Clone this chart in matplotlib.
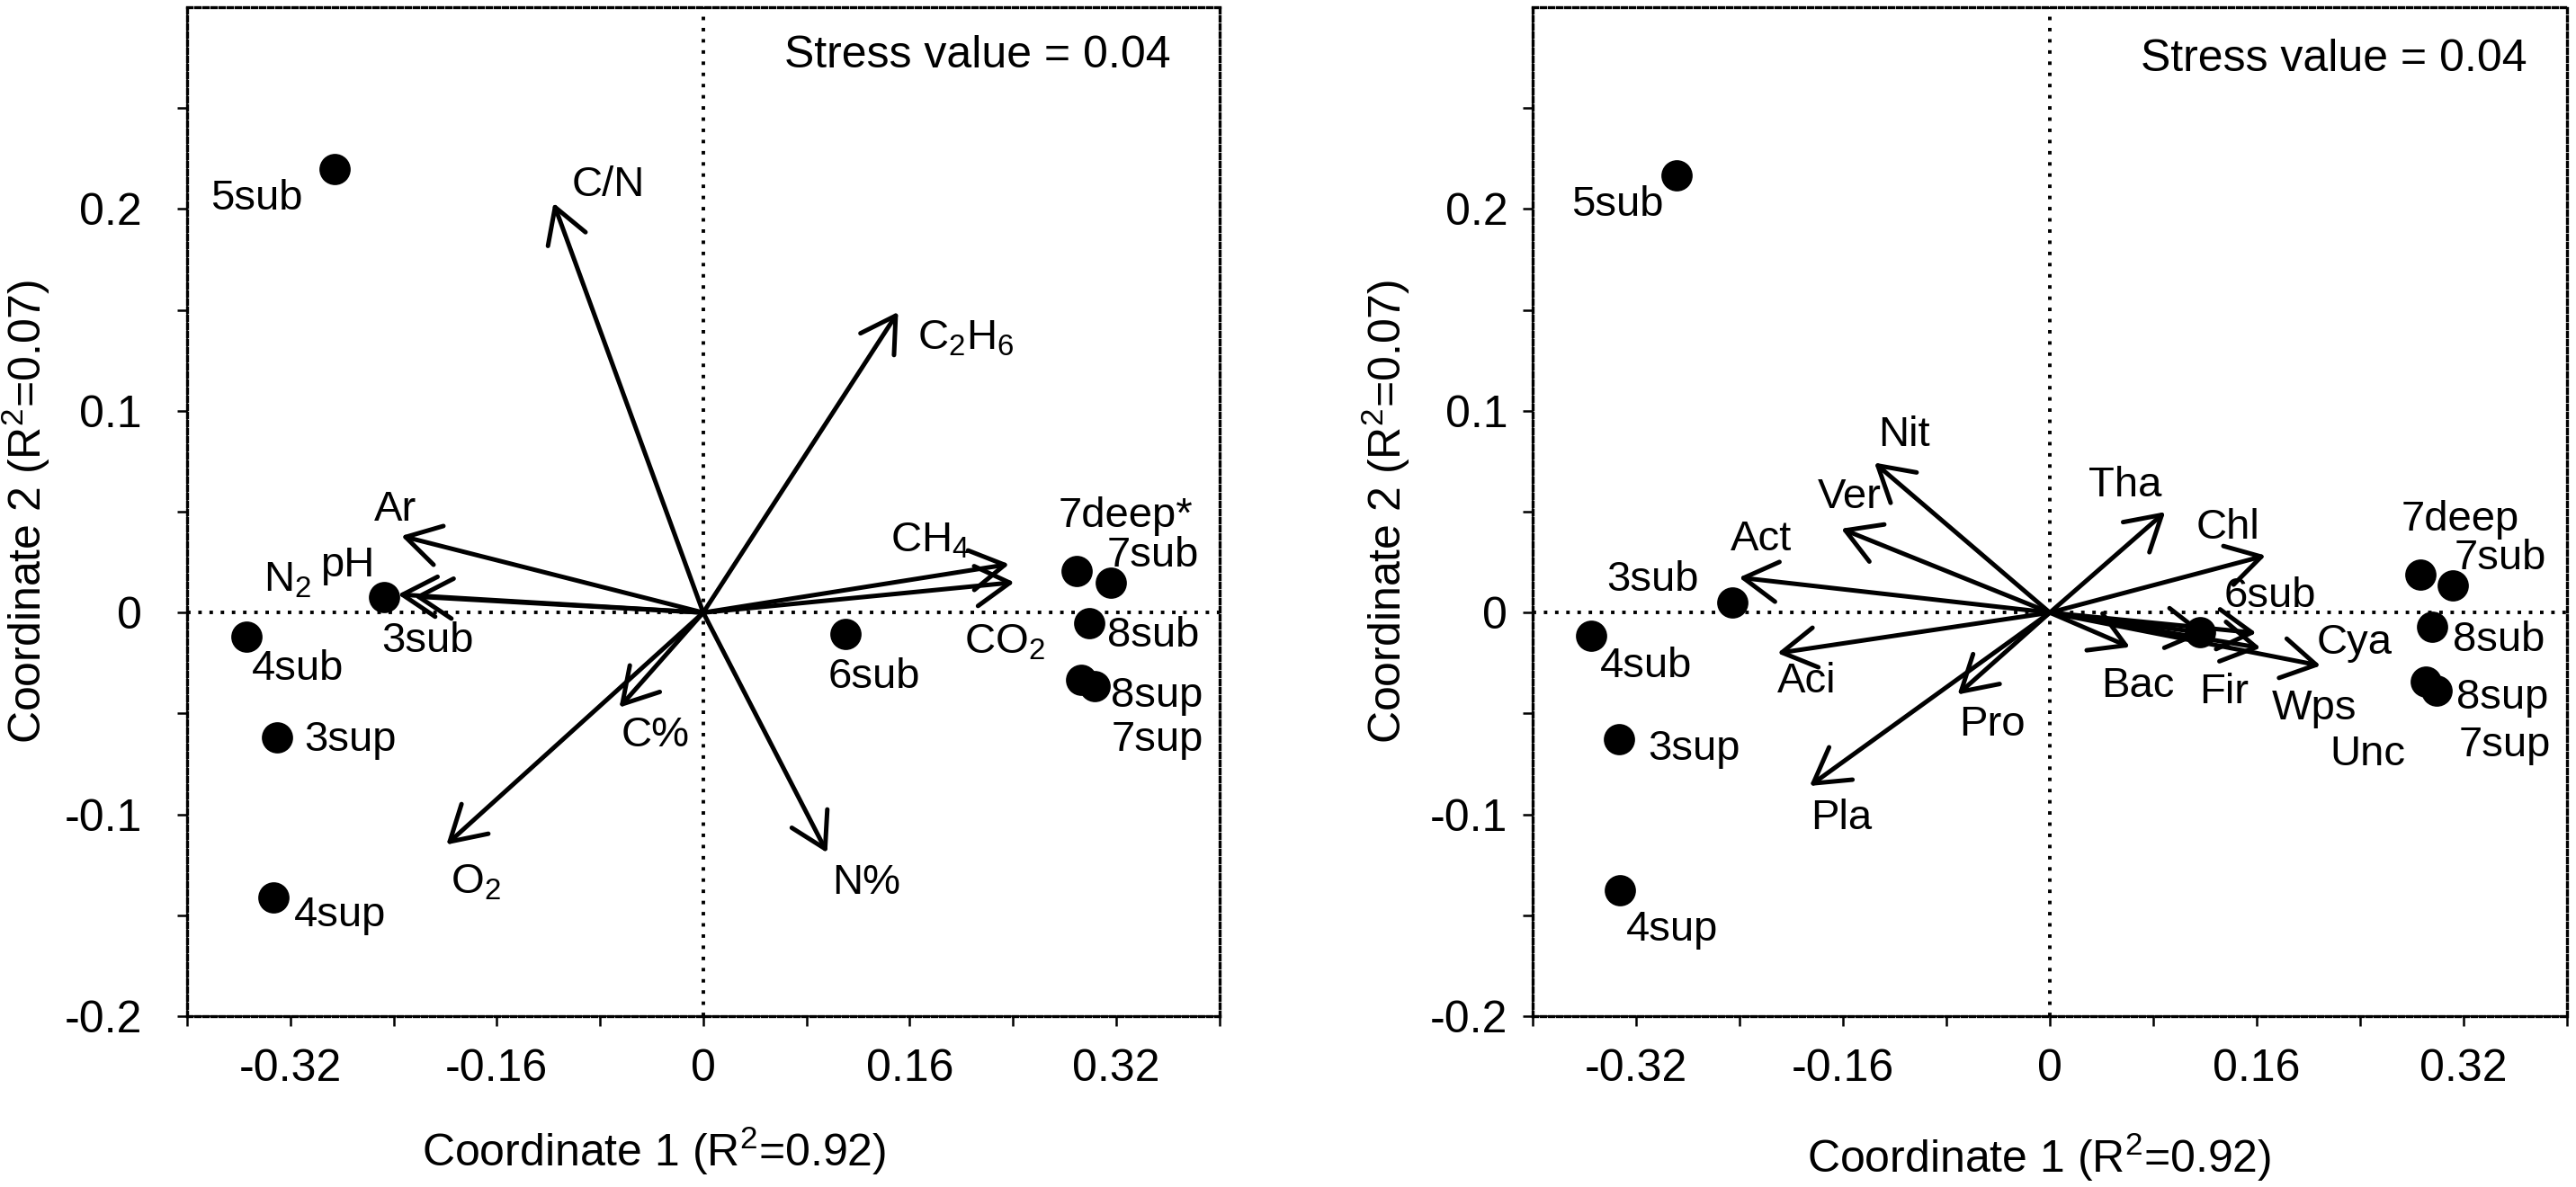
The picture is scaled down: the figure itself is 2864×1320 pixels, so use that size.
import matplotlib
matplotlib.use('Agg')
import matplotlib.pyplot as plt
from matplotlib.ticker import FixedLocator, NullFormatter

plt.rcParams['font.family'] = ['Liberation Sans', 'DejaVu Sans']
plt.rcParams['mathtext.fontset'] = 'custom'
plt.rcParams['mathtext.rm'] = 'Liberation Sans'
plt.rcParams['mathtext.default'] = 'regular'
plt.rcParams['axes.unicode_minus'] = False

# ---- panel A: sites + environmental vectors ----
sites_a = ['5sub', '7deep*', '7sub', '3sub', '4sub', '6sub', '8sub', '8sup', '7sup', '3sup', '4sup']
sx_a = [-0.286, 0.289, 0.316, -0.247, -0.354, 0.110, 0.299, 0.293, 0.303, -0.330, -0.333]
sy_a = [0.220, 0.0205, 0.0146, 0.0077, -0.012, -0.0104, -0.0052, -0.0334, -0.0364, -0.062, -0.141]
# label anchor positions
slx_a = [-0.310, 0.275, 0.313, -0.249, -0.350, 0.097, 0.313, 0.316, 0.316, -0.309, -0.317]
sly_a = [0.205, 0.048, 0.028, -0.0142, -0.028, -0.032, -0.0116, -0.0415, -0.063, -0.063, -0.150]

vec_a = ['C/N', 'C$_2$H$_6$', 'Ar', 'N$_2$', 'pH', 'CH$_4$', 'CO$_2$', 'C%', 'O$_2$', 'N%']
vx_a = [-0.116, 0.151, -0.234, -0.2365, -0.224, 0.237, 0.241, -0.065, -0.199, 0.096]
vy_a = [0.203, 0.149, 0.038, 0.009, 0.008, 0.024, 0.015, -0.047, -0.115, -0.119]
vlx_a = [-0.102, 0.166, -0.255, -0.341, -0.2965, 0.145, 0.202, -0.0635, -0.196, 0.100]
vly_a = [0.212, 0.1306, 0.051, 0.0104, 0.0178, 0.030, -0.020, -0.061, -0.1393, -0.134]
vva_a = ['center', 'baseline', 'center', 'baseline', 'baseline', 'baseline', 'baseline', 'center', 'baseline', 'center']

# ---- panel B: sites + taxa vectors ----
sites_b = ['5sub', '7deep', '7sub', '3sub', '4sub', '6sub', '8sub', '8sup', '7sup', '3sup', '4sup']
sx_b = [-0.2885, 0.2866, 0.312, -0.2459, -0.355, 0.1165, 0.296, 0.291, 0.299, -0.333, -0.3325]
sy_b = [0.2165, 0.019, 0.0133, 0.0052, -0.0116, -0.0097, -0.0069, -0.0344, -0.0387, -0.0626, -0.1378]
slx_b = [-0.299, 0.272, 0.313, -0.343, -0.348, 0.135, 0.312, 0.3146, 0.3166, -0.311, -0.328]
sly_b = [0.202, 0.046, 0.027, 0.016, -0.0265, 0.008, -0.0135, -0.0424, -0.0658, -0.0677, -0.157]

vec_b = ['Nit', 'Ver', 'Act', 'Tha', 'Chl', 'Aci', 'Pro', 'Pla', 'Bac', 'Fir', 'Cya', 'Wps', 'Unc']
vx_b = [-0.1357, -0.1614, -0.2404, 0.0892, 0.1669, -0.2107, -0.0713, -0.1858, 0.0619, 0.120, 0.1597, 0.163, 0.2094]
vy_b = [0.0743, 0.0416, 0.0174, 0.0499, 0.0283, -0.0201, -0.0406, -0.0859, -0.0171, -0.0101, -0.0101, -0.0175, -0.0263]
vlx_b = [-0.1325, -0.180, -0.247, 0.030, 0.113, -0.211, -0.070, -0.185, 0.040, 0.1153, 0.206, 0.172, 0.2164]
vly_b = [0.088, 0.057, 0.036, 0.063, 0.042, -0.034, -0.0555, -0.102, -0.0364, -0.0397, -0.0152, -0.0477, -0.0704]

stress_txt = 'Stress value = 0.04'
xticks_lab = [-0.32, -0.16, 0, 0.16, 0.32]
xticks_min = [-0.4, -0.24, -0.08, 0.08, 0.24, 0.4]
yticks_lab = [-0.2, -0.1, 0, 0.1, 0.2]
yticks_min = [-0.15, -0.05, 0.05, 0.15, 0.25]


def fmt(v):
    return '0' if v == 0 else ('%g' % v)


def panel(ax, sx, sy, sites, slx, sly, vx, vy, vecs, vlx, vly, vva, stress_x, stress_y, ypad):
    ax.set_xlim(-0.4, 0.4)
    ax.set_ylim(-0.2, 0.3)
    ax.axhline(0, color='black', lw=1.4, ls=(0, (1, 2.2)), zorder=1)
    ax.axvline(0, color='black', lw=1.4, ls=(0, (1, 2.2)), zorder=1)
    for x, y in zip(vx, vy):
        ax.annotate('', xy=(x, y), xytext=(0, 0),
                    arrowprops=dict(arrowstyle='->,head_length=0.68,head_width=0.4',
                                    color='black', lw=1.8, shrinkA=0, shrinkB=0,
                                    mutation_scale=20), zorder=3)
    ax.plot(sx, sy, 'o', color='black', ms=11.5, zorder=4)
    for name, x, y in zip(sites, slx, sly):
        ha = 'right' if name == '5sub' else 'left'
        ax.text(x, y, name, ha=ha, va='center', fontsize=17)
    for name, x, y, va in zip(vecs, vlx, vly, vva):
        ax.text(x, y, name, ha='left', va=va, fontsize=17)
    ax.text(stress_x, stress_y, stress_txt, ha='right', va='center', fontsize=18)

    ax.xaxis.set_major_locator(FixedLocator(xticks_lab))
    ax.xaxis.set_minor_locator(FixedLocator(xticks_min))
    ax.yaxis.set_major_locator(FixedLocator(yticks_lab))
    ax.yaxis.set_minor_locator(FixedLocator(yticks_min))
    ax.set_xticklabels([fmt(v) for v in xticks_lab])
    ax.set_yticklabels([fmt(v) for v in yticks_lab])
    ax.xaxis.set_minor_formatter(NullFormatter())
    ax.yaxis.set_minor_formatter(NullFormatter())
    ax.tick_params(which='both', direction='out', length=4, width=0.9, labelsize=18)
    ax.tick_params(axis='x', which='major', pad=9)
    ax.tick_params(axis='y', which='major', pad=ypad)

    for sp in ax.spines.values():
        sp.set_linestyle((0, (1.5, 1.2)))
        sp.set_linewidth(1.2)
    ax.plot([0, 0], [0, 1], transform=ax.transAxes, color='black', lw=0.6, clip_on=False)
    ax.plot([0, 1], [0, 0], transform=ax.transAxes, color='black', lw=0.6, clip_on=False)

    ax.set_xlabel('Coordinate 1 (R$^2$=0.92)', fontsize=18)
    ax.set_ylabel('Coordinate 2 (R$^2$=0.07)', fontsize=18)


fig = plt.figure(figsize=(14.32, 6.6), dpi=200)
ax1 = fig.add_axes([0.0726, 0.1439, 0.4008, 0.850])
ax2 = fig.add_axes([0.5950, 0.1439, 0.4015, 0.850])

panel(ax1, sx_a, sy_a, sites_a, slx_a, sly_a, vx_a, vy_a, vec_a, vlx_a, vly_a, vva_a, 0.362, 0.276, 14)
panel(ax2, sx_b, sy_b, sites_b, slx_b, sly_b, vx_b, vy_b, vec_b, vlx_b, vly_b,
      ['center'] * len(vec_b), 0.369, 0.274, 6)

ax1.xaxis.set_label_coords(0.452, -0.108)
ax1.yaxis.set_label_coords(-0.131, 0.5)
ax2.xaxis.set_label_coords(0.490, -0.114)
ax2.yaxis.set_label_coords(-0.117, 0.5)

fig.savefig('out.png', dpi=200)
